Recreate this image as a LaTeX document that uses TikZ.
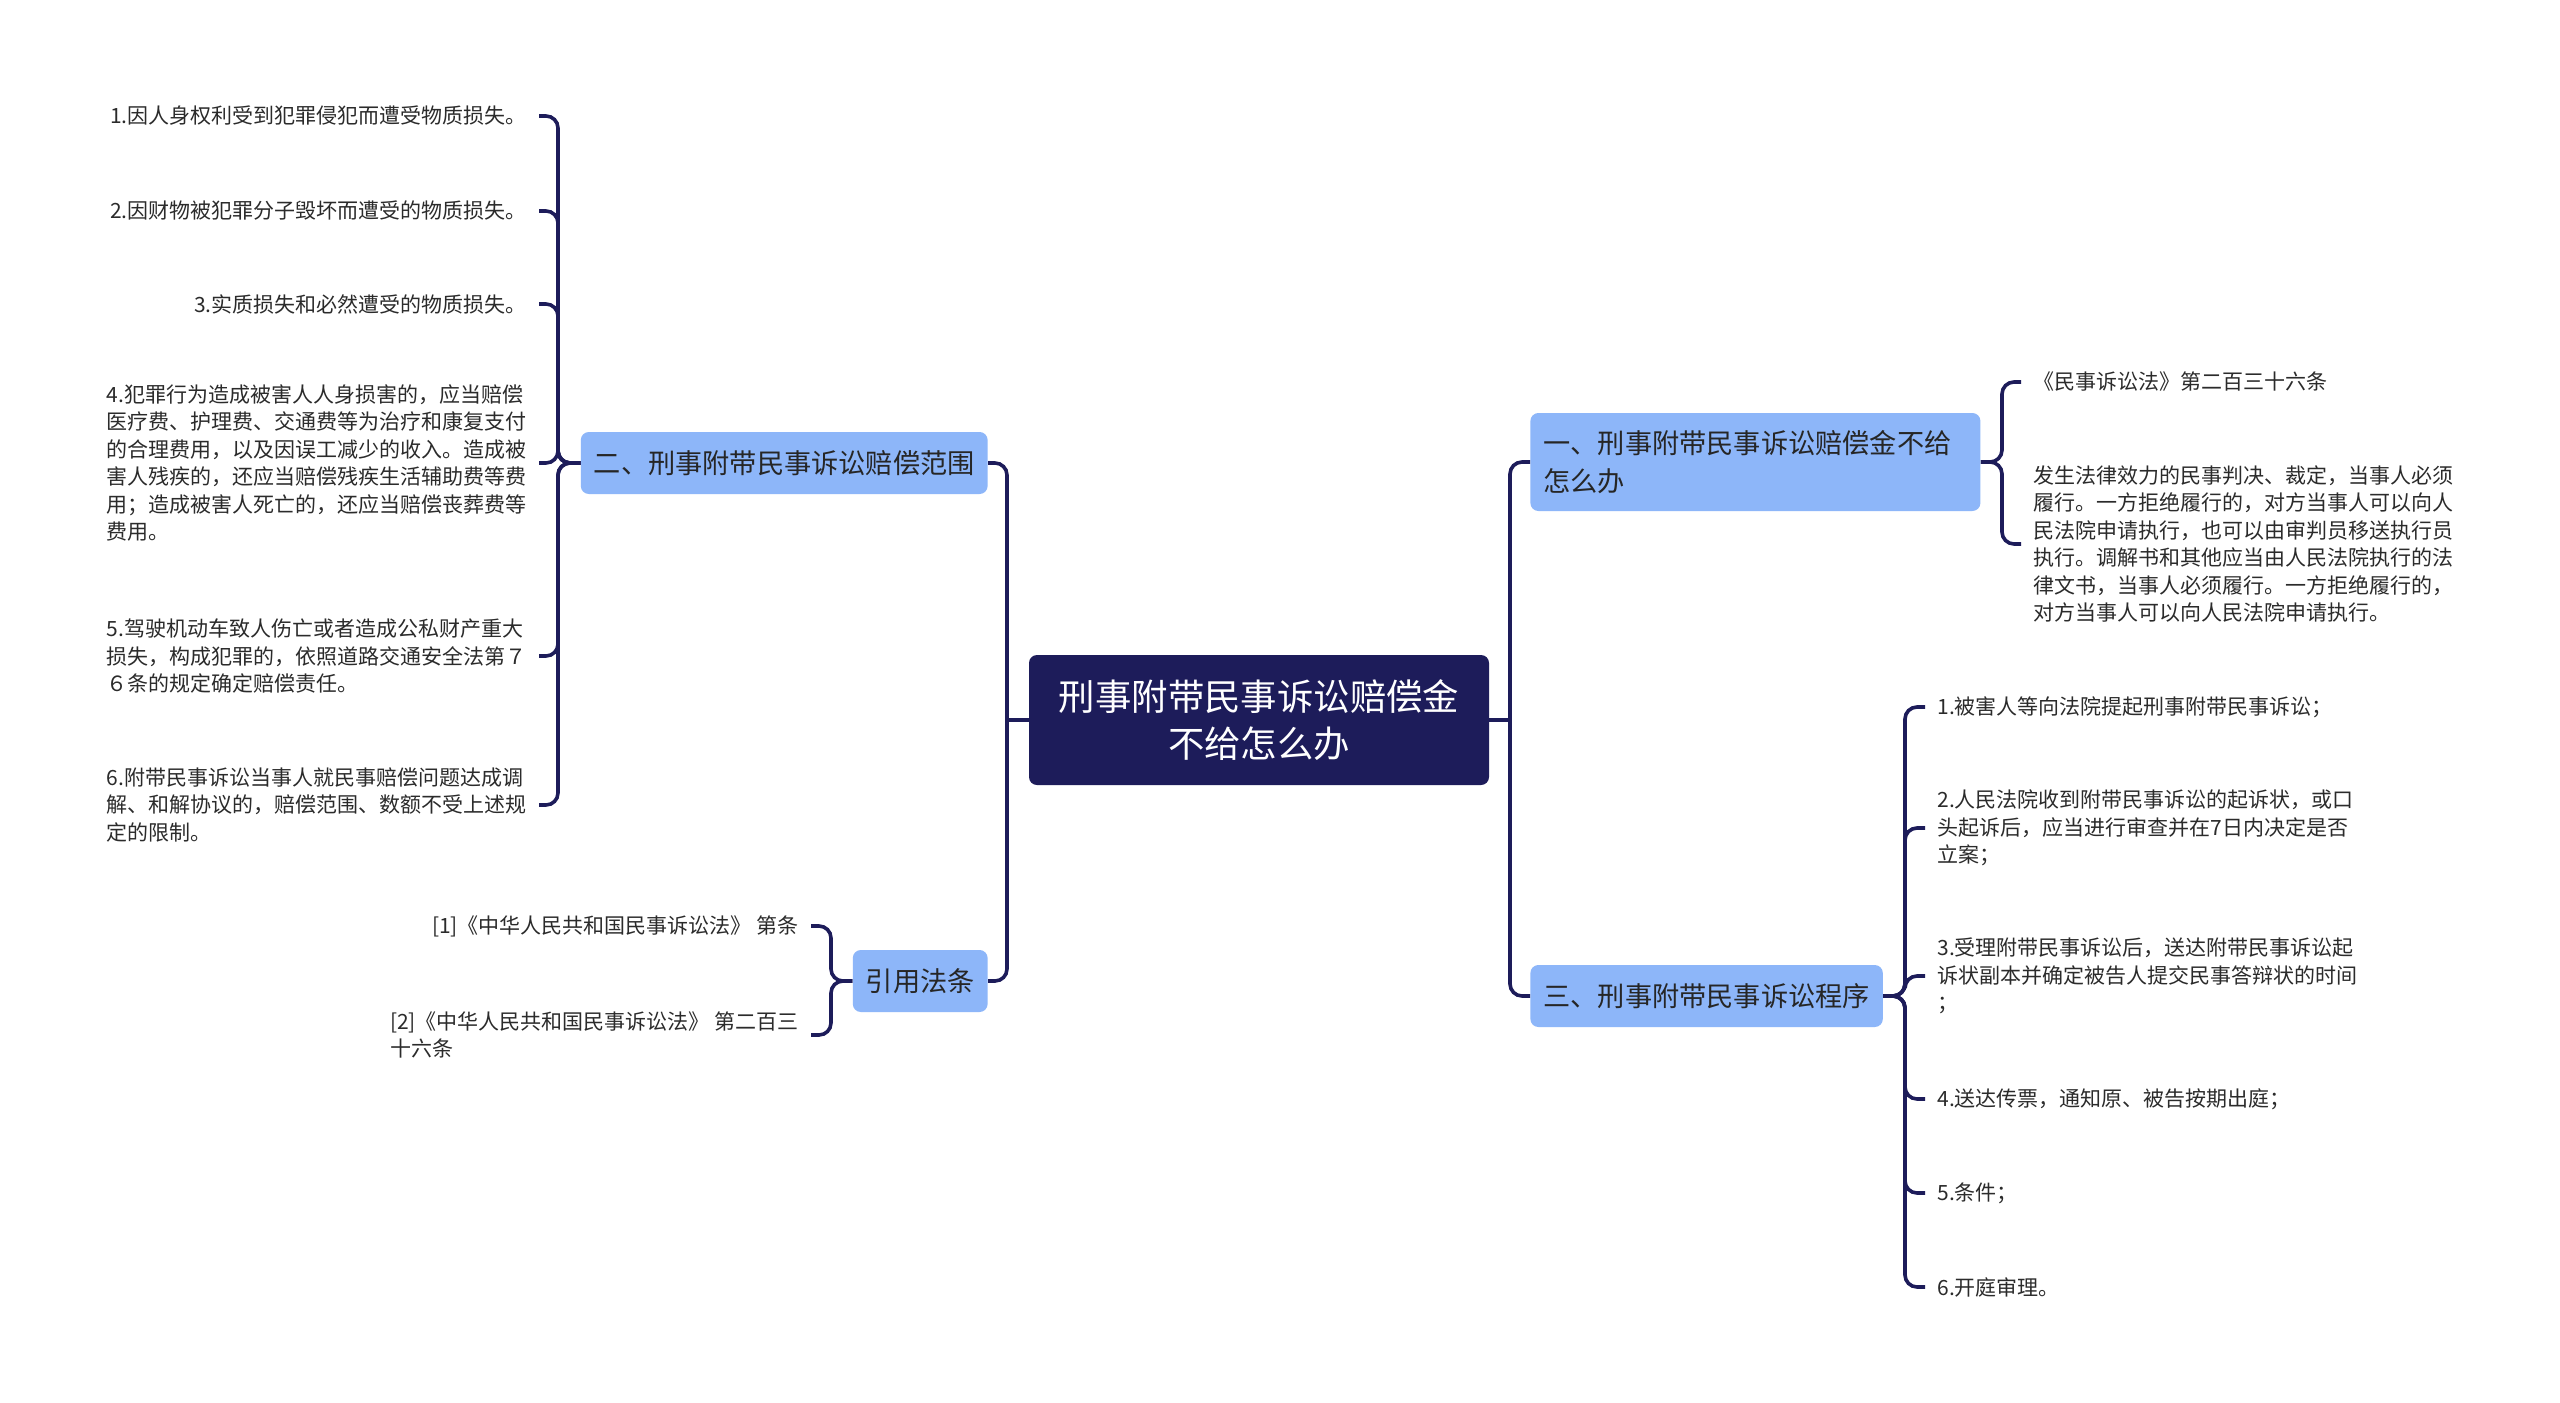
\documentclass[tikz,border=0pt]{standalone}
\usepackage{fontspec}
\setmainfont{Noto Sans CJK SC}
\definecolor{colorPrincipal}{HTML}{1D1C5A}
\definecolor{colorRama}{HTML}{8DB6F9}
\definecolor{colorTexto}{HTML}{2B2B2B}

\begin{document}
\begin{tikzpicture}[x=0.5pt, y=-0.5pt,
        raiz/.style={fill=colorPrincipal, text=white, rounded corners=4pt, align=center,
            minimum width=230pt, minimum height=65pt, font=\fontsize{18.2}{23.5}\selectfont},
        rama/.style={fill=colorRama, text=black!85, rounded corners=4pt, inner xsep=6.5pt,
            minimum height=31pt, font=\fontsize{13.6}{18.8}\selectfont},
        hoja/.style={text=colorTexto, inner xsep=6pt, inner ysep=0pt, align=left,
            font=\fontsize{10.5}{13.7}\selectfont},
        rel/.style={colorPrincipal, line width=1.8pt, rounded corners=6pt}
    ]
        \fill[white] (0,0) rectangle (2560,1403);
        \useasboundingbox (0,0) rectangle (2560,1403);

        % centro y ramas
        \node[raiz] (raiz) at (1259,720) {刑事附带民事诉讼赔偿金\\不给怎么办};
        \node[rama, anchor=east] (alcance) at (988,463) {二、刑事附带民事诉讼赔偿范围};
        \node[rama, anchor=east] (leyes) at (988,981) {引用法条};
        \node[rama, anchor=west, align=left, text width=212pt, minimum height=49pt] (cobro) at (1530,462) {一、刑事附带民事诉讼赔偿金不给\\怎么办};
        \node[rama, anchor=west] (proceso) at (1530,996) {三、刑事附带民事诉讼程序};

        % hojas de la izquierda
        \node[hoja, anchor=east] (a1) at (539,116) {1.因人身权利受到犯罪侵犯而遭受物质损失。};
        \node[hoja, anchor=east] (a2) at (539,211) {2.因财物被犯罪分子毁坏而遭受的物质损失。};
        \node[hoja, anchor=east] (a3) at (539,304) {3.实质损失和必然遭受的物质损失。};
        \node[hoja, anchor=east] (a4) at (539,463) {4.犯罪行为造成被害人人身损害的，应当赔偿\\医疗费、护理费、交通费等为治疗和康复支付\\的合理费用，以及因误工减少的收入。造成被\\害人残疾的，还应当赔偿残疾生活辅助费等费\\用；造成被害人死亡的，还应当赔偿丧葬费等\\费用。};
        \node[hoja, anchor=east] (a5) at (539,656) {5.驾驶机动车致人伤亡或者造成公私财产重大\\损失，构成犯罪的，依照道路交通安全法第７\\６条的规定确定赔偿责任。};
        \node[hoja, anchor=east] (a6) at (539,805) {6.附带民事诉讼当事人就民事赔偿问题达成调\\解、和解协议的，赔偿范围、数额不受上述规\\定的限制。};
        \node[hoja, anchor=east] (l1) at (811,926) {[1]《中华人民共和国民事诉讼法》 第条};
        \node[hoja, anchor=east] (l2) at (811,1035) {[2]《中华人民共和国民事诉讼法》 第二百三\\十六条};

        % hojas de la derecha
        \node[hoja, anchor=west] (b1) at (2021,382) {《民事诉讼法》第二百三十六条};
        \node[hoja, anchor=west] (b2) at (2021,544) {发生法律效力的民事判决、裁定，当事人必须\\履行。一方拒绝履行的，对方当事人可以向人\\民法院申请执行，也可以由审判员移送执行员\\执行。调解书和其他应当由人民法院执行的法\\律文书，当事人必须履行。一方拒绝履行的，\\对方当事人可以向人民法院申请执行。};
        \node[hoja, anchor=west] (c1) at (1925,707) {1.被害人等向法院提起刑事附带民事诉讼；};
        \node[hoja, anchor=west] (c2) at (1925,828) {2.人民法院收到附带民事诉讼的起诉状，或口\\头起诉后，应当进行审查并在7日内决定是否\\立案；};
        \node[hoja, anchor=west] (c3) at (1925,976) {3.受理附带民事诉讼后，送达附带民事诉讼起\\诉状副本并确定被告人提交民事答辩状的时间\\；};
        \node[hoja, anchor=west] (c4) at (1925,1099) {4.送达传票，通知原、被告按期出庭；};
        \node[hoja, anchor=west] (c5) at (1925,1193) {5.条件；};
        \node[hoja, anchor=west] (c6) at (1925,1287) {6.开庭审理。};

        % conectores
        \coordinate (pIzq) at (1007,720);
        \coordinate (pDer) at (1510,720);
        \coordinate (qA) at (558,463);
        \coordinate (qL) at (831,981);
        \coordinate (qB) at (2002,462);
        \coordinate (qC) at (1905,996);
        \draw[rel] (alcance.east) -| (pIzq) |- (leyes.east);
        \draw[rel] (raiz.west) -- (pIzq);
        \draw[rel] (cobro.west) -| (pDer) |- (proceso.west);
        \draw[rel] (raiz.east) -- (pDer);
        \foreach \h in {a1,a2,a3,a4,a5,a6} \draw[rel] (alcance.west) -- (qA) |- (\h.east);
        \foreach \h in {l1,l2} \draw[rel] (leyes.west) -- (qL) |- (\h.east);
        \foreach \h in {b1,b2} \draw[rel] (cobro.east) -- (qB) |- (\h.west);
        \foreach \h in {c1,c2,c3,c4,c5,c6} \draw[rel] (proceso.east) -- (qC) |- (\h.west);
    \end{tikzpicture}
\end{document}
